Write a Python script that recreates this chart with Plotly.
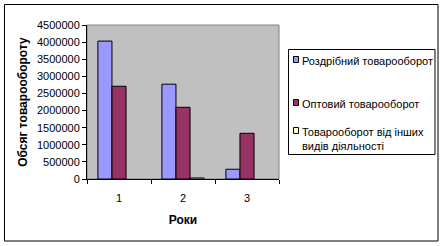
import plotly.graph_objects as go

years = ["1", "2", "3"]
retail = [4030000, 2770000, 285000]
wholesale = [2710000, 2095000, 1335000]
other = [0, 30000, 0]

series_names = ["Роздрібний товарооборот", "Оптовий товарооборот",
                "Товарооборот від інших<br>видів діяльності"]
series_colors = ["#9999FF", "#993366", "#FFFFCC"]
y_ticks = list(range(0, 4500001, 500000))

W, H = 444, 246
L, R, T, B = 87, 279, 25, 179


def px(x):
    return (x - L) / (R - L)


def py(y):
    return (B - y) / (B - T)


FONT = "Liberation Sans, Arial, sans-serif"

fig = go.Figure()
for name, vals, col in zip(series_names, [retail, wholesale, other], series_colors):
    fig.add_trace(go.Bar(x=years, y=vals, name=name, marker_color=col,
                         marker_line_color="black",
                         marker_line_width=[1 if v > 0 else 0 for v in vals],
                         showlegend=False))

shapes = []
annotations = []
# outer chart border
shapes.append(dict(type="rect", xref="paper", yref="paper",
                   x0=px(4.5), x1=px(438), y0=py(241), y1=py(4.5),
                   line=dict(color="black", width=1), layer="below"))
# plot area border
shapes.append(dict(type="rect", xref="paper", yref="paper",
                   x0=0, x1=1, y0=0, y1=1,
                   line=dict(color="#808080", width=1), layer="below"))
# legend box
shapes.append(dict(type="rect", xref="paper", yref="paper",
                   x0=px(288.5), x1=px(435), y0=py(154.5), y1=py(49.5),
                   line=dict(color="black", width=1)))
leg_rows = [60, 103, 131]
for name, col, yy in zip(series_names, series_colors, leg_rows):
    shapes.append(dict(type="rect", xref="paper", yref="paper",
                       x0=px(293.5), x1=px(298.5), y0=py(yy + 2.5), y1=py(yy - 3.5),
                       fillcolor=col, line=dict(color="black", width=1)))
    annotations.append(dict(xref="paper", yref="paper", x=px(300), y=py(yy - 7),
                            xanchor="left", yanchor="top", align="left",
                            text=name, showarrow=False,
                            font=dict(family=FONT, size=11, color="black")))

fig.update_layout(
    width=W, height=H,
    margin=dict(l=L, r=W - R, t=T, b=H - B, autoexpand=False),
    paper_bgcolor="white", plot_bgcolor="#C0C0C0",
    barmode="group", bargap=0.34, bargroupgap=0,
    font=dict(family=FONT, size=11, color="black"),
    shapes=shapes, annotations=annotations,
    xaxis=dict(type="category", tickson="boundaries", ticks="outside", ticklen=4,
               tickcolor="black", showline=True, linecolor="black", linewidth=1,
               showgrid=False, ticklabelstandoff=9,
               title=dict(text="<b>Роки</b>", standoff=12,
                          font=dict(family=FONT, size=12))),
    yaxis=dict(range=[0, 4500000], tickvals=y_ticks, tickformat="d",
               ticks="outside", ticklen=4, tickcolor="black",
               showline=True, linecolor="black", linewidth=1, showgrid=False,
               zeroline=False,
               title=dict(text="<b>Обсяг товарообороту</b>", standoff=6,
                          font=dict(family=FONT, size=12))),
)

fig.write_html("out.html")
